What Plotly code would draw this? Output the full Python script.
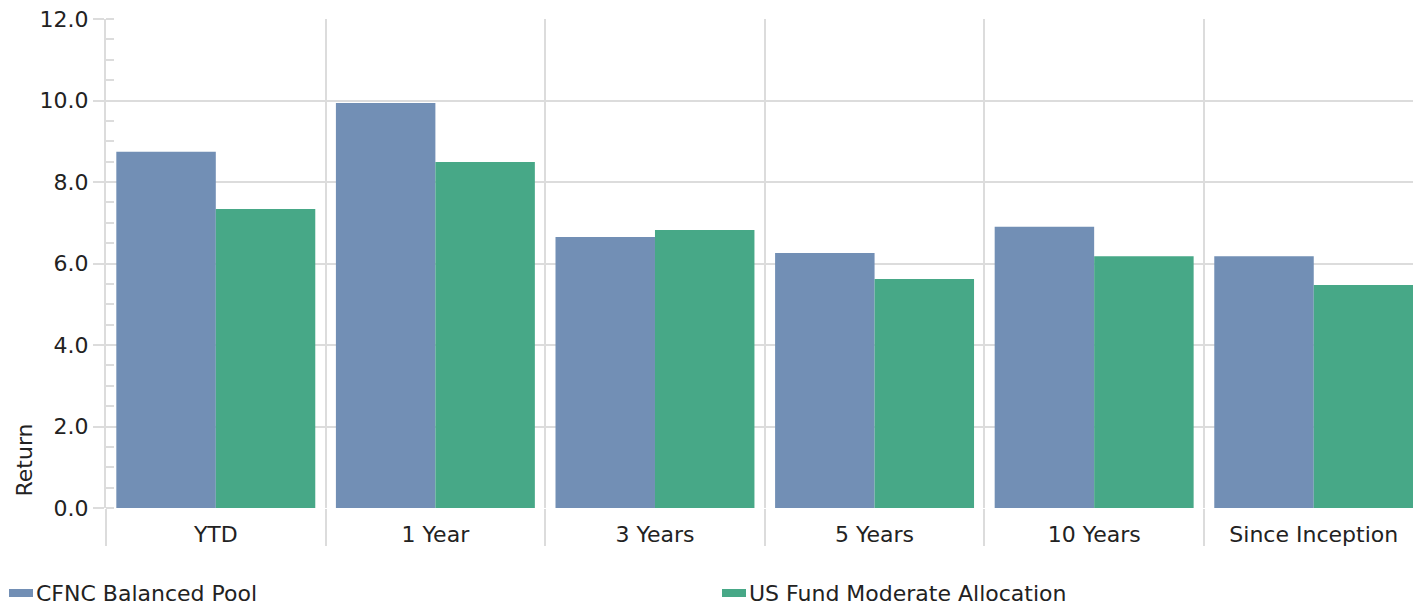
import plotly.graph_objects as go

periods = ["YTD", "1 Year", "3 Years", "5 Years", "10 Years", "Since Inception"]
pool_name = "CFNC Balanced Pool"
bench_name = "US Fund Moderate Allocation"
pool_returns = [8.74, 9.94, 6.65, 6.26, 6.90, 6.18]
bench_returns = [7.34, 8.49, 6.82, 5.62, 6.18, 5.47]

BLUE = "#728fb5"
GREEN = "#47a887"
GRID = "#dcdcdc"
TEXT = "#222222"
FONT = "DejaVu Sans"

W, H = 1413, 605
ML, MR, MT, MB = 106, 0, 19, 97
PW, PH = W - ML - MR, H - MT - MB


def px_x(x):
    return (x - ML) / PW


def px_y(y):
    return (H - MB - y) / PH


fig = go.Figure()
fig.add_trace(go.Bar(x=periods, y=pool_returns, name=pool_name,
                     marker=dict(color=BLUE, line=dict(width=0))))
fig.add_trace(go.Bar(x=periods, y=bench_returns, name=bench_name,
                     marker=dict(color=GREEN, line=dict(width=0))))

fig.update_layout(
    width=W, height=H,
    margin=dict(l=ML, r=MR, t=MT, b=MB, autoexpand=False),
    plot_bgcolor="white", paper_bgcolor="white",
    barmode="group", bargap=0.094, bargroupgap=0,
    font=dict(family=FONT, size=22, color=TEXT),
    showlegend=False,
)

fig.update_xaxes(
    range=[-0.5, 5.452], showgrid=True, gridcolor=GRID, gridwidth=2,
    tickson="boundaries", ticks="outside", ticklen=37, tickcolor=GRID, tickwidth=2,
    ticklabelstandoff=11,
    showline=False, zeroline=False, fixedrange=True,
    tickfont=dict(family=FONT, size=22, color=TEXT),
)
fig.update_yaxes(
    range=[0, 12], dtick=2, tickformat=".1f", showgrid=True, gridcolor=GRID, gridwidth=2,
    ticks="outside", ticklen=11, tickcolor=GRID, tickwidth=2,
    showline=True, linecolor=GRID, linewidth=2, zeroline=False,
    minor=dict(dtick=0.5, ticks="inside", ticklen=8, tickcolor=GRID, tickwidth=2, showgrid=False),
    tickfont=dict(family=FONT, size=22, color=TEXT),
)

# axis title
fig.add_annotation(text="Return", textangle=-90, xref="paper", yref="paper",
                   x=px_x(24), y=px_y(499), xanchor="center", yanchor="bottom",
                   showarrow=False, font=dict(family=FONT, size=22, color=TEXT))

# legend row: wide swatch followed directly by the series name
legend_items = [(pool_name, BLUE, 9), (bench_name, GREEN, 722)]
for name, color, x0 in legend_items:
    fig.add_shape(type="rect", xref="paper", yref="paper",
                  x0=px_x(x0), x1=px_x(x0 + 24), y0=px_y(597), y1=px_y(589),
                  fillcolor=color, line=dict(width=0))
    fig.add_annotation(text=name, xref="paper", yref="paper",
                       x=px_x(x0 + 25), y=px_y(593), xanchor="left", yanchor="middle",
                       showarrow=False, font=dict(family=FONT, size=22, color=TEXT))

fig.write_html("out.html")
